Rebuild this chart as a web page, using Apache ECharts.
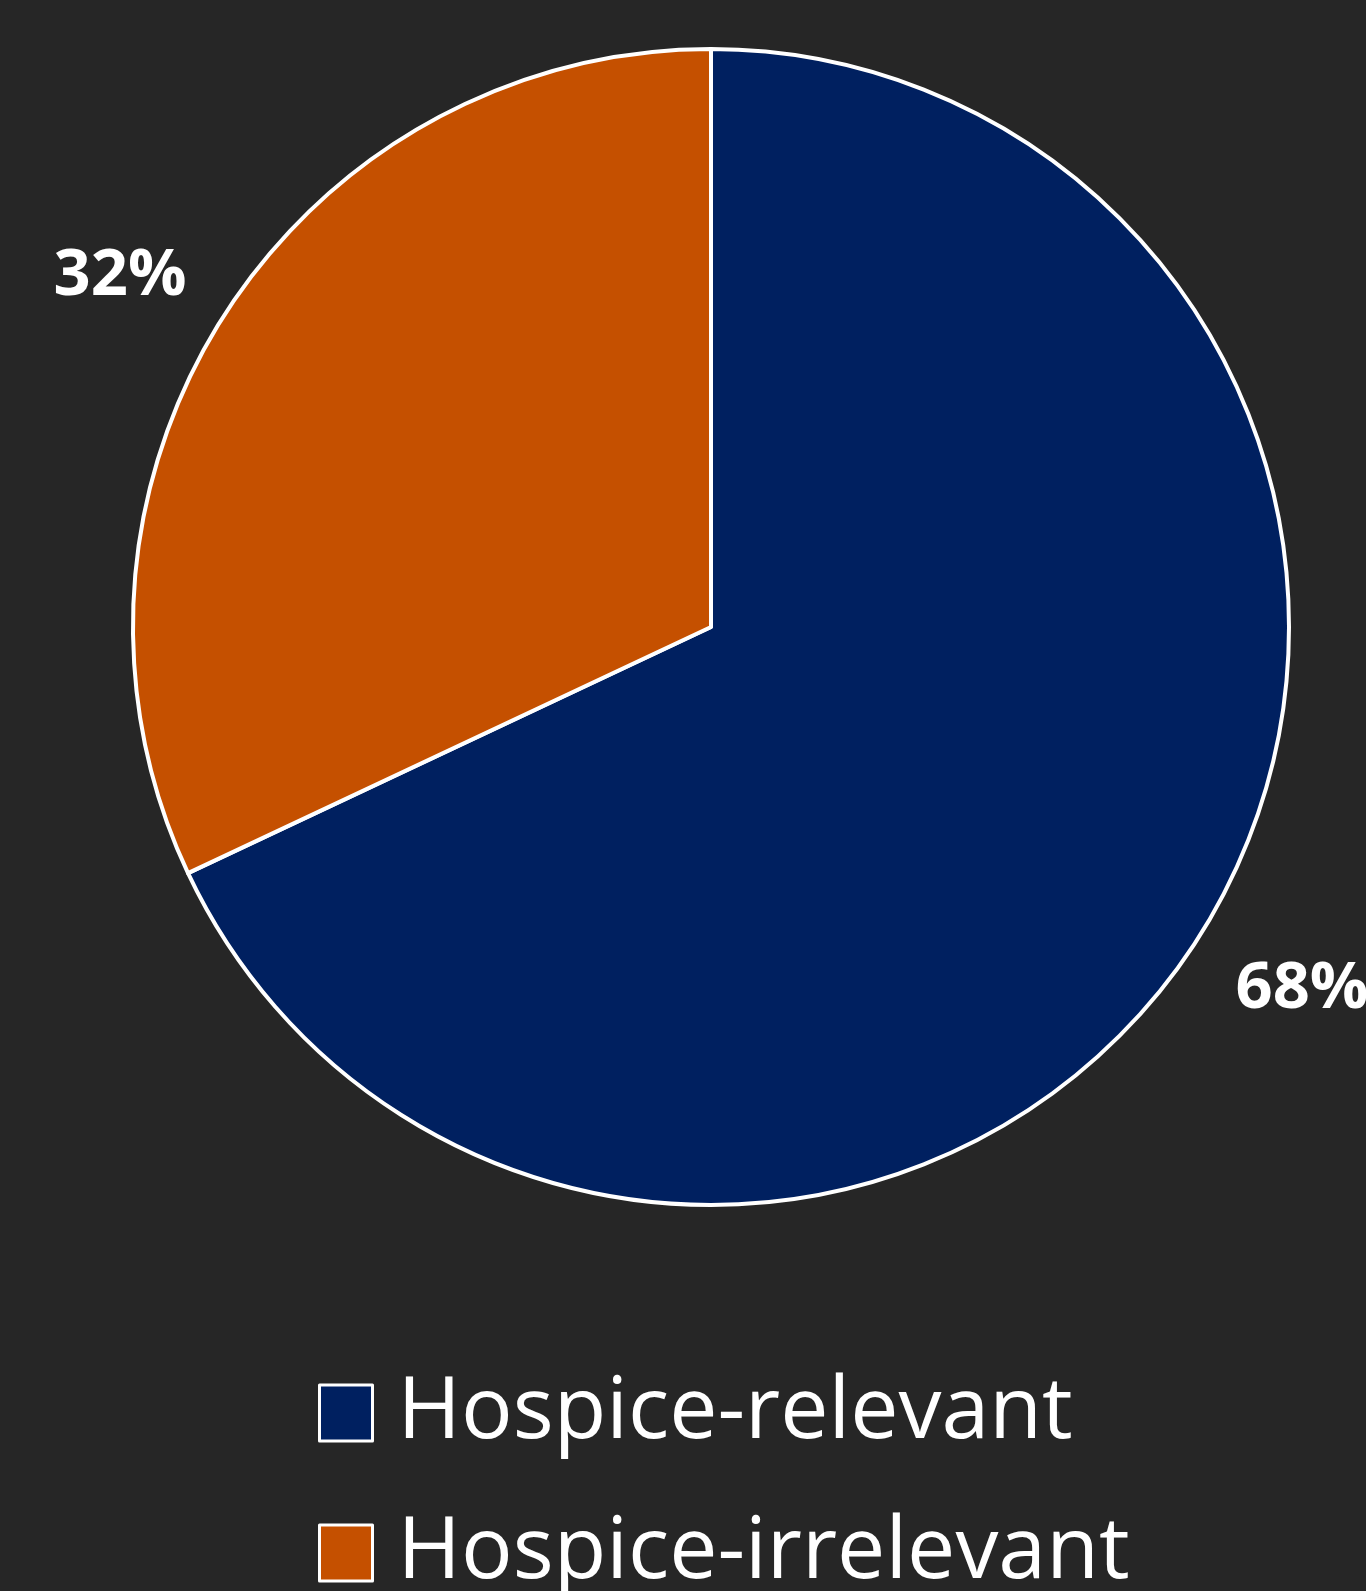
<!DOCTYPE html>
<html>
<head>
<meta charset="utf-8">
<script src="https://cdn.jsdelivr.net/npm/echarts@6/dist/echarts.min.js"></script>
<style>
  html, body { margin: 0; padding: 0; background: #262626; }
  #chart { width: 1366px; height: 1591px; }
</style>
</head>
<body>
<div id="chart"></div>
<script>
// Share of items by hospice relevance (percent)
const categories = ['Hospice-relevant', 'Hospice-irrelevant'];
const shares = [68, 32];
const sliceColors = ['#002060', '#C55000'];

const pieData = categories.map((name, i) => ({
  name: name,
  value: shares[i],
  itemStyle: { color: sliceColors[i] }
}));

const chart = echarts.init(document.getElementById('chart'));

chart.setOption({
  backgroundColor: '#262626',
  animation: false,
  legend: {
    orient: 'vertical',
    left: 318,
    top: 1370,
    height: 320,
    padding: 0,
    icon: 'rect',
    itemWidth: 53,
    itemHeight: 56,
    itemGap: 54,
    data: categories,
    itemStyle: { borderColor: '#ffffff', borderWidth: 3 },
    textStyle: {
      color: '#ffffff',
      fontFamily: 'Open Sans',
      fontSize: 86,
      lineHeight: 76,
      padding: [0, 0, 0, 20]
    }
  },
  series: [
    {
      type: 'pie',
      center: [711, 627],
      radius: [0, 578],
      startAngle: 90,
      clockwise: true,
      data: pieData,
      itemStyle: { borderColor: '#ffffff', borderWidth: 4 },
      label: { show: false },
      labelLine: { show: false },
      emphasis: { disabled: true }
    },
    {
      // invisible ring that carries the percentage labels outside the pie
      type: 'pie',
      center: [711, 633],
      radius: [0, 1374],
      startAngle: 91.32,
      clockwise: true,
      silent: true,
      z: 1,
      data: categories.map((name, i) => ({ name: name, value: shares[i] })),
      itemStyle: { color: 'transparent', borderWidth: 0 },
      label: {
        show: true,
        position: 'inside',
        formatter: '{c}%',
        color: '#ffffff',
        fontFamily: 'Open Sans',
        fontWeight: 'bold',
        fontSize: 65
      },
      labelLine: { show: false },
      emphasis: { disabled: true }
    }
  ]
});
</script>
</body>
</html>
